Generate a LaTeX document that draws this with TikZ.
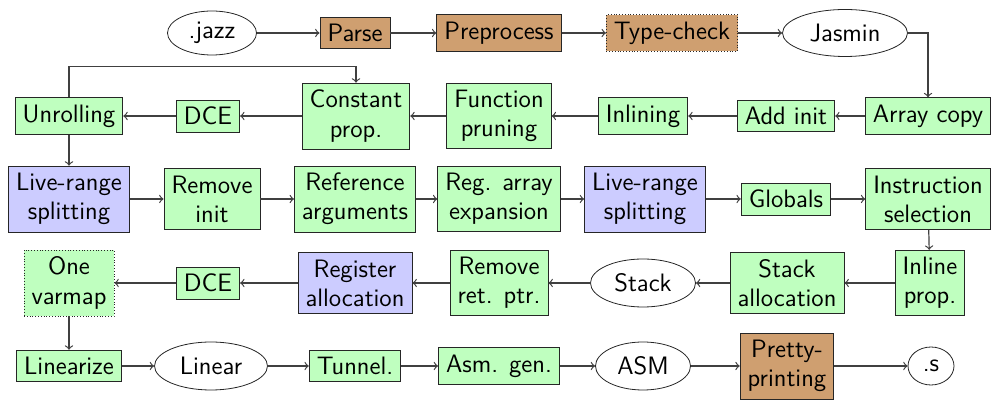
\documentclass[tikz,border=0pt]{standalone}
\usetikzlibrary{shapes.geometric}
\renewcommand{\familydefault}{\sfdefault}
\begin{document}
\begin{tikzpicture}[x=0.5pt,y=-0.5pt,
  every node/.style={font=\sffamily\fontsize{12.6}{14.6}\selectfont, align=center},
  pass/.style={draw=black!85, rectangle, fill=green!25, inner xsep=3.8pt, inner ysep=3.5pt},
  front/.style={draw=black!85, rectangle, fill=brown!75, inner xsep=3.8pt, inner ysep=3.5pt},
  regs/.style={draw=black!85, rectangle, fill=blue!20, inner xsep=3.8pt, inner ysep=3.5pt},
  lang/.style={draw=black!85, ellipse, inner sep=1pt, minimum height=23.5pt},
  flow/.style={->, draw=black!75, semithick}]
\useasboundingbox (0,0) rectangle (991,400);

% front end
\node[lang, minimum width=44.5pt, minimum height=22pt] (jazz) at (212,33) {.jazz};
\node[front] (parse) at (355,33) {Parse};
\node[front] (pre) at (499,33) {Preprocess};
\node[front, densely dotted] (tc) at (672,33) {Type-check};
\node[lang, minimum width=62.5pt] (jasmin) at (845,33) {Jasmin};

% high-level passes
\node[pass] (acopy) at (928,116) {Array copy};
\node[pass] (ainit) at (786,116) {Add init};
\node[pass] (inl) at (643,116) {Inlining};
\node[pass] (fprune) at (499,116) {Function\\pruning};
\node[pass] (cprop) at (356,116) {Constant\\prop.};
\node[pass] (dce1) at (208,116) {DCE};
\node[pass] (unroll) at (69,116) {Unrolling};

% middle passes
\node[regs] (lrs1) at (69,199) {Live-range\\splitting};
\node[pass] (rinit) at (212,199) {Remove\\init};
\node[pass] (refarg) at (355,199) {Reference\\arguments};
\node[pass] (rae) at (499,199) {Reg. array\\expansion};
\node[regs] (lrs2) at (645,199) {Live-range\\splitting};
\node[pass] (glob) at (786,199) {Globals};
\node[pass] (isel) at (928,199) {Instruction\\selection};

% low-level passes
\node[pass] (iprop) at (930,283) {Inline\\prop.};
\node[pass] (salloc) at (787,283) {Stack\\allocation};
\node[lang, minimum width=52.5pt, minimum height=24pt] (stack) at (643,283) {Stack};
\node[pass] (rrp) at (499,283) {Remove\\ret. ptr.};
\node[regs] (ralloc) at (355,283) {Register\\allocation};
\node[pass] (dce2) at (208,283) {DCE};
\node[pass, densely dotted] (onevm) at (69,283) {One\\varmap};

% back end
\node[pass] (lin) at (69,366) {Linearize};
\node[lang, minimum width=56.5pt, minimum height=24pt] (linear) at (211,366) {Linear};
\node[pass] (tun) at (355,366) {Tunnel.};
\node[pass] (asmgen) at (499,366) {Asm. gen.};
\node[lang, minimum width=47.5pt, minimum height=24pt] (asm) at (643,366) {ASM};
\node[front] (pp) at (787,366) {Pretty-\\printing};
\node[lang, minimum width=23pt, minimum height=19pt] (s) at (931,366) {.s};

% connectors
\draw[flow] (jazz) -- (parse);
\draw[flow] (parse) -- (pre);
\draw[flow] (pre) -- (tc);
\draw[flow] (tc) -- (jasmin);
\draw[flow] (jasmin.east) -| (acopy.north);
\draw[flow] (acopy) -- (ainit);
\draw[flow] (ainit) -- (inl);
\draw[flow] (inl) -- (fprune);
\draw[flow] (fprune) -- (cprop);
\draw[flow] (cprop) -- (dce1);
\draw[flow] (dce1) -- (unroll);
\draw[flow] (unroll.north) -- ++(0,-31) -| (cprop.north);
\draw[flow] (unroll) -- (lrs1);
\draw[flow] (lrs1) -- (rinit);
\draw[flow] (rinit) -- (refarg);
\draw[flow] (refarg) -- (rae);
\draw[flow] (rae) -- (lrs2);
\draw[flow] (lrs2) -- (glob);
\draw[flow] (glob) -- (isel);
\draw[flow] (isel) -- (iprop);
\draw[flow] (iprop) -- (salloc);
\draw[flow] (salloc) -- (stack);
\draw[flow] (stack) -- (rrp);
\draw[flow] (rrp) -- (ralloc);
\draw[flow] (ralloc) -- (dce2);
\draw[flow] (dce2) -- (onevm);
\draw[flow] (onevm) -- (lin);
\draw[flow] (lin) -- (linear);
\draw[flow] (linear) -- (tun);
\draw[flow] (tun) -- (asmgen);
\draw[flow] (asmgen) -- (asm);
\draw[flow] (asm) -- (pp);
\draw[flow] (pp) -- (s);
\end{tikzpicture}
\end{document}
